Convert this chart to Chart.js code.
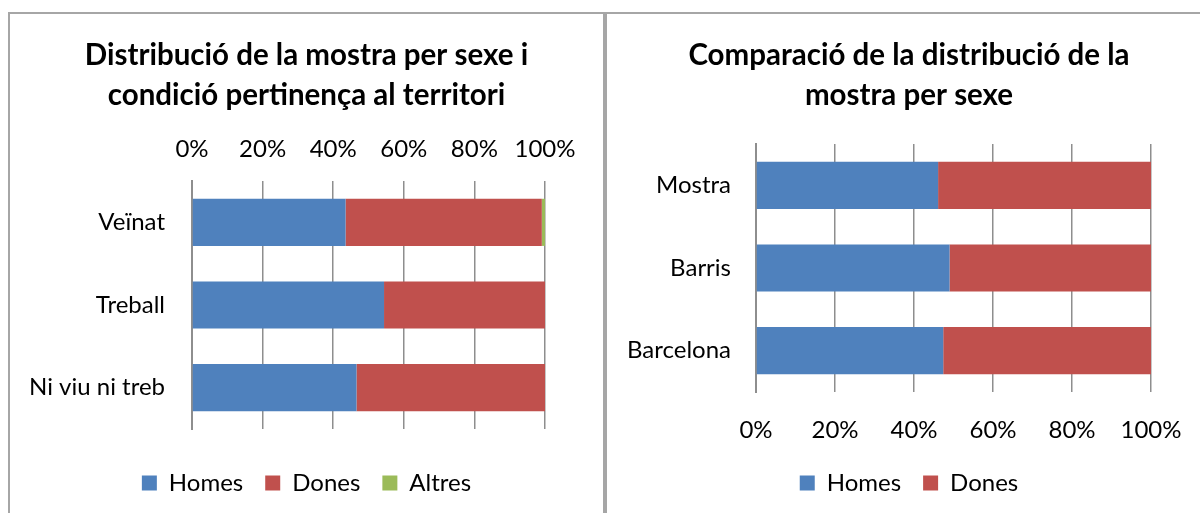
<!DOCTYPE html>
<html>
<head>
<meta charset="utf-8">
<script src="https://cdn.jsdelivr.net/npm/chart.js@4"></script>
<style>
  html, body { margin: 0; padding: 0; background: #fff; width: 1200px; height: 513px; overflow: hidden; }
  .box { position: absolute; border: 2px solid #a6a6a6; border-bottom: none; box-sizing: border-box; }
  canvas { position: absolute; }
</style>
</head>
<body>
<div class="box" style="left:8px; top:12px; width:597px; height:520px;"></div>
<div class="box" style="left:605px; top:12px; width:610px; height:520px;"></div>
<canvas id="c1" width="593" height="500" style="left:10px; top:13px;"></canvas>
<canvas id="c2" width="604" height="500" style="left:607px; top:13px;"></canvas>
<script>
// ---- Data ----
const leftTitle = ['Distribució de la mostra per sexe i', 'condició pertinença al territori'];
const leftCategories = ['Veïnat', 'Treball', 'Ni viu ni treb'];
const leftHomes = [43.5, 54.4, 46.6];
const leftDones = [55.6, 45.6, 53.4];
const leftAltres = [0.9, 0, 0];

const rightTitle = ['Comparació de la distribució de la', 'mostra per sexe'];
const rightCategories = ['Mostra', 'Barris', 'Barcelona'];
const rightHomes = [46.1, 49.0, 47.4];
const rightDones = [53.9, 51.0, 52.6];

const seriesNames = ['Homes', 'Dones', 'Altres'];
const tickValues = [0, 20, 40, 60, 80, 100];

// ---- Styles ----
const FONT = 'Lato, "Open Sans", sans-serif';
const COLORS = ['#4F81BD', '#C0504D', '#9BBB59'];
const GRID = '#8e8e8e';

function makeChart(id, cfg) {
  const ds = cfg.series.map((vals, i) => ({
    label: seriesNames[i],
    data: vals,
    backgroundColor: COLORS[i],
    borderWidth: 0,
    barPercentage: 0.57,
    categoryPercentage: 1.0,
    xAxisID: 'x'
  }));
  const scales = {
    x: {
      type: 'linear',
      position: cfg.xPos,
      stacked: true,
      min: 0, max: 100,
      afterBuildTicks: (s) => { s.ticks = tickValues.map(v => ({ value: v })); },
      afterFit: (s) => { s.height = cfg.xHeight; },
      grid: { color: GRID, lineWidth: 1.5, drawTicks: false },
      border: { display: false },
      ticks: {
        padding: cfg.xPad,
        color: '#000',
        font: { family: FONT, size: 24 },
        maxRotation: 0,
        callback: (v) => v + '%'
      }
    },
    y: {
      type: 'category',
      stacked: true,
      afterFit: (s) => { s.width = cfg.yWidth; },
      grid: { display: false, drawTicks: false },
      border: { display: true, color: GRID, width: 2 },
      ticks: { padding: cfg.yPad, color: '#000', font: { family: FONT, size: 24 } }
    },
    yr: {
      type: 'linear', position: 'right', min: 0, max: 1,
      afterFit: (s) => { s.width = cfg.rightSpace; },
      grid: { display: false, drawTicks: false },
      border: { display: false },
      ticks: { display: false }
    }
  };
  if (cfg.spacer) {
    scales.xb = {
      type: 'linear', position: 'bottom', min: 0, max: 1,
      afterFit: (s) => { s.height = cfg.spacer; },
      grid: { display: false, drawTicks: false },
      border: { display: false },
      ticks: { display: false }
    };
  }
  return new Chart(document.getElementById(id), {
    type: 'bar',
    data: { labels: cfg.labels, datasets: ds },
    options: {
      indexAxis: 'y',
      responsive: false,
      animation: false,
      layout: { padding: { left: 0, right: 0, top: 0, bottom: 8 } },
      scales: scales,
      plugins: {
        title: {
          display: true,
          text: cfg.title,
          color: '#000',
          font: { family: FONT, size: 29.5, weight: 'bold', lineHeight: 40 / 29.5 },
          padding: { top: 22, bottom: cfg.titleBottom }
        },
        legend: {
          position: 'bottom',
          labels: {
            color: '#000',
            font: { family: FONT, size: 24 },
            boxWidth: 15, boxHeight: 15,
            padding: 22
          }
        },
        tooltip: { enabled: false }
      }
    }
  });
}

makeChart('c1', {
  title: leftTitle, labels: leftCategories,
  series: [leftHomes, leftDones, leftAltres],
  xPos: 'top', xHeight: 66, xPad: 17,
  yWidth: 182, yPad: 27, rightSpace: 58,
  titleBottom: 0, spacer: 20
});
makeChart('c2', {
  title: rightTitle, labels: rightCategories,
  series: [rightHomes, rightDones],
  xPos: 'bottom', xHeight: 57, xPad: 24,
  yWidth: 149, yPad: 25, rightSpace: 60,
  titleBottom: 29
});
</script>
</body>
</html>
